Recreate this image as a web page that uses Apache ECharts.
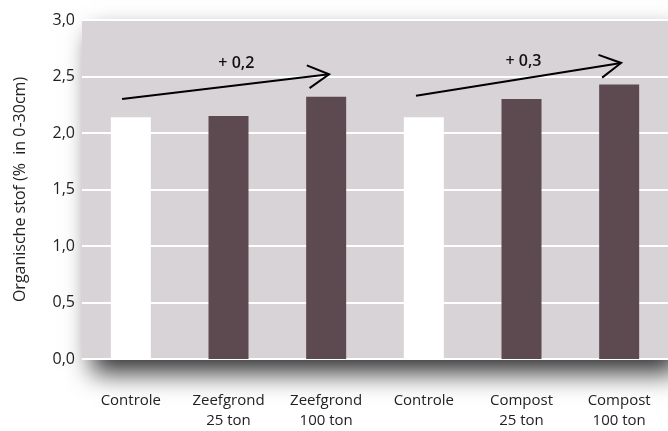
<!DOCTYPE html>
<html>
<head>
<meta charset="utf-8">
<script src="https://cdn.jsdelivr.net/npm/echarts@6/dist/echarts.min.js"></script>
<style>
  html, body { margin: 0; padding: 0; background: #fff; }
  #chart { width: 668px; height: 431px; }
</style>
</head>
<body>
<div id="chart"></div>
<script>
  // categorieen en waarden (% organische stof in 0-30cm)
  const categories = ['Controle', 'Zeefgrond\n25 ton', 'Zeefgrond\n100 ton', 'Controle', 'Compost\n25 ton', 'Compost\n100 ton'];
  const values = [2.14, 2.15, 2.32, 2.14, 2.30, 2.43];
  const yTicks = [0, 0.5, 1, 1.5, 2, 2.5, 3];

  // pijlen: [x0, y0, x1, y1] in categorie-index / waarde
  const arrows = [
    [-0.09, 2.30, 2.03, 2.52],
    [2.92, 2.33, 5.02, 2.62]
  ];
  const arrowLabels = ['+ 0,2', '+ 0,3'];
  const labelPos = [[1.08, 2.62], [4.02, 2.63]];

  const font = '"Open Sans", "Noto Sans", sans-serif';
  const chart = echarts.init(document.getElementById('chart'));

  function renderArrow(params, api) {
    const i = params.dataIndex;
    const a = arrows[i];
    const p0 = api.coord([a[0], a[1]]);
    const p1 = api.coord([a[2], a[3]]);
    const ang = Math.atan2(p1[1] - p0[1], p1[0] - p0[0]);
    const len = 24, spread = 0.5;
    const h1 = [p1[0] - len * Math.cos(ang - spread), p1[1] - len * Math.sin(ang - spread)];
    const h2 = [p1[0] - len * Math.cos(ang + spread), p1[1] - len * Math.sin(ang + spread)];
    const lp = api.coord(labelPos[i]);
    return {
      type: 'group',
      children: [
        { type: 'line', shape: { x1: p0[0], y1: p0[1], x2: p1[0], y2: p1[1] }, style: { stroke: '#000', lineWidth: 2 } },
        { type: 'polyline', shape: { points: [h1, p1, h2] }, style: { stroke: '#000', lineWidth: 2, fill: null } },
        { type: 'text', x: lp[0], y: lp[1], style: { text: arrowLabels[i], font: '600 16px ' + font, fill: '#111', align: 'center', verticalAlign: 'middle' } }
      ]
    };
  }

  chart.setOption({
    animation: false,
    grid: {
      left: 82, top: 20, width: 588, height: 341,
      show: true, backgroundColor: '#d8d3d6', borderWidth: 0,
      shadowColor: 'rgba(0,0,0,0.8)', shadowBlur: 24, shadowOffsetX: 10, shadowOffsetY: 14
    },
    xAxis: [{
      type: 'category',
      data: categories,
      axisLine: { show: true, lineStyle: { color: '#fff', width: 1 } },
      axisTick: { show: false },
      axisLabel: { color: '#222', fontFamily: font, fontSize: 15, lineHeight: 20, margin: 32 },
      splitLine: { show: false }
    }, {
      type: 'value', min: -0.5, max: 5.5, show: false
    }],
    yAxis: {
      type: 'value', min: 0, max: 3, interval: 0.5,
      name: 'Organische stof (%  in 0-30cm)',
      nameLocation: 'middle', nameGap: 54, nameRotate: 90,
      nameTextStyle: { color: '#222', fontFamily: font, fontSize: 16 },
      axisLine: { show: false },
      axisTick: { show: false },
      axisLabel: {
        color: '#222', fontFamily: font, fontSize: 16, margin: 7,
        formatter: v => yTicks.includes(v) ? v.toFixed(1).replace('.', ',') : ''
      },
      splitLine: { show: true, lineStyle: { color: '#fff', width: 2 } }
    },
    series: [{
      type: 'bar',
      barWidth: 40,
      data: values.map((v, i) => ({
        value: v,
        itemStyle: { color: categories[i] === 'Controle' ? '#ffffff' : '#5c4a50' }
      }))
    }, {
      type: 'custom',
      xAxisIndex: 1,
      renderItem: renderArrow,
      data: arrows.map((a, i) => i),
      silent: true,
      z: 5
    }]
  });
</script>
</body>
</html>
